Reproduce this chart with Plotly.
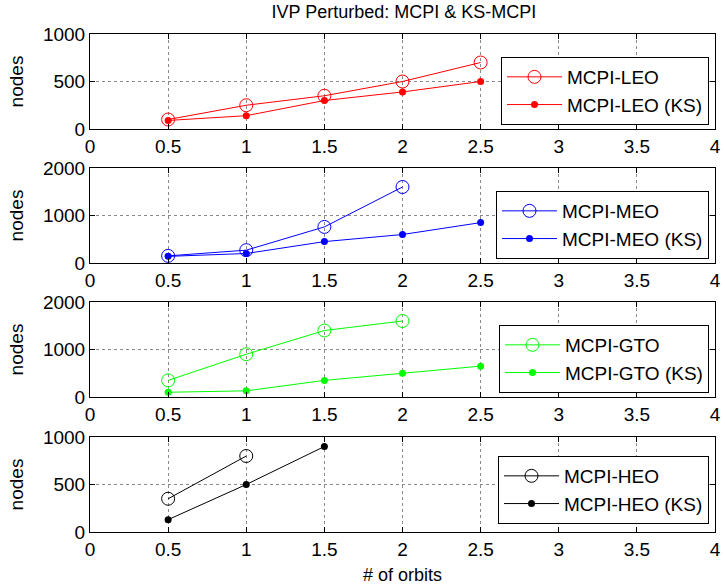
import plotly.graph_objects as go

# ---- data ----
orbits5 = [0.5, 1, 1.5, 2, 2.5]
orbits4 = [0.5, 1, 1.5, 2]
orbits3 = [0.5, 1, 1.5]
orbits2 = [0.5, 1]

leo = [100, 250, 350, 500, 700]
leo_ks = [90, 140, 300, 390, 500]
meo = [150, 270, 760, 1600]
meo_ks = [140, 200, 450, 600, 850]
gto = [350, 900, 1400, 1600]
gto_ks = [100, 130, 350, 500, 650]
heo = [350, 800]
heo_ks = [130, 500, 900]

x_ticks = [0, 0.5, 1, 1.5, 2, 2.5, 3, 3.5, 4]
x_ticklabels = ["0", "0.5", "1", "1.5", "2", "2.5", "3", "3.5", "4"]
y_ticks_small = [0, 500, 1000]
y_ticks_big = [0, 1000, 2000]

FONT = "Liberation Sans, Arial, sans-serif"

panels = [
    ("LEO", "#ff0000", orbits5, leo, orbits5, leo_ks, y_ticks_small),
    ("MEO", "#0000ff", orbits4, meo, orbits5, meo_ks, y_ticks_big),
    ("GTO", "#00ff00", orbits4, gto, orbits5, gto_ks, y_ticks_big),
    ("HEO", "#000000", orbits2, heo, orbits3, heo_ks, y_ticks_small),
]

# pixel layout
W, H = 725, 587
ML, MR, MT, MB = 90, 10, 34, 55
plot_w = W - ML - MR
plot_h = H - MT - MB
tops = [34, 168, 302, 437]
hgt = 95
leg_center_off = [38, 38, 38, 42]

fig = go.Figure()
layout = dict(
    width=W, height=H,
    margin=dict(l=ML, r=MR, t=MT, b=MB),
    paper_bgcolor="white", plot_bgcolor="white",
    font=dict(family=FONT, size=19, color="black"),
    title=dict(text="IVP Perturbed: MCPI &amp; KS-MCPI", x=404 / W, xanchor="center",
               y=1 - 12 / H, yanchor="middle", font=dict(size=18)),
    showlegend=True,
)

for i, (name, col, xo, yo, xk, yk, yt) in enumerate(panels):
    n = "" if i == 0 else str(i + 1)
    lg = "legend" + n
    fig.add_trace(go.Scatter(
        x=xo, y=yo, mode="lines+markers", name=f"MCPI-{name}",
        line=dict(color=col, width=1),
        marker=dict(symbol="circle-open", size=13, color=col, line=dict(width=1)),
        xaxis="x" + n, yaxis="y" + n, legend=lg,
    ))
    fig.add_trace(go.Scatter(
        x=xk, y=yk, mode="lines+markers", name=f"MCPI-{name} (KS)",
        line=dict(color=col, width=1),
        marker=dict(symbol="circle", size=7, color=col),
        xaxis="x" + n, yaxis="y" + n, legend=lg,
    ))
    top, bot = tops[i], tops[i] + hgt
    dom = [(H - MB - bot) / plot_h, (H - MB - top) / plot_h]
    axis_common = dict(
        showline=True, linecolor="black", linewidth=1, mirror="allticks",
        ticks="inside", ticklen=5, tickcolor="black",
        showgrid=True, gridcolor="#8a8a8a", griddash="dot", gridwidth=1,
        zeroline=False, tickfont=dict(size=19), automargin=False,
    )
    layout["xaxis" + n] = dict(
        axis_common, range=[0, 4], tickvals=x_ticks, ticktext=x_ticklabels,
        anchor="y" + n, domain=[0, 1], ticklabeloverflow="allow",
        title=dict(text="# of orbits", font=dict(size=18), standoff=9) if i == 3 else None,
    )
    layout["yaxis" + n] = dict(
        axis_common, range=[yt[0], yt[-1]], tickvals=yt, ticktext=[str(v) for v in yt],
        anchor="x" + n, domain=dom, ticklabeloverflow="allow",
        title=dict(text="nodes", font=dict(size=19), standoff=14),
    )
    leg_c = bot - leg_center_off[i]
    layout[lg] = dict(
        x=(W - MR - 6 - ML) / plot_w, xanchor="right",
        y=(H - MB - leg_c) / plot_h, yanchor="middle",
        bgcolor="white", bordercolor="black", borderwidth=1,
        font=dict(size=19), itemwidth=55, tracegroupgap=0,
    )

fig.update_layout(**layout)
fig.write_html("out.html", config={"displayModeBar": False},
               post_script="document.body.style.margin='0';")
